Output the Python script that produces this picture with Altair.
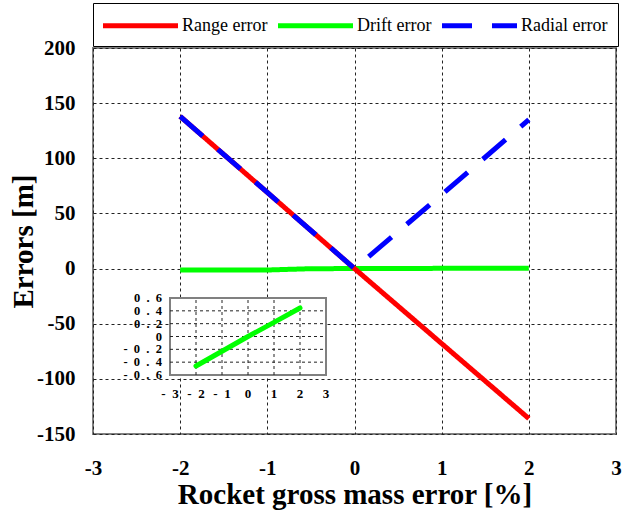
import altair as alt
import pandas as pd

# Main curves: errors [m] versus rocket gross mass error [%]
mass_err = [-2, -1, 0, 1, 2]
range_err = [138, 69, 0, -68, -136]
radial_err = [138, 69, 0, 67, 135]
drift_x = [-2, -1, -0.5, 0, 1, 2]
drift_err = [-1.3, -1.3, -0.1, 0, 0.2, 0.4]

# Inset: drift error at a finer vertical scale
inset_x = [-2, -1, 0, 1, 2]
inset_drift = [-0.46, -0.23, 0, 0.22, 0.445]

series_names = ["Range error", "Drift error", "Radial error"]
series_colors = ["#FF0000", "#00FF00", "#0000FF"]
series_dash = [[1, 0], [1, 0], [30, 20]]

x_ticks = [-3, -2, -1, 0, 1, 2, 3]
y_ticks = [-150, -100, -50, 0, 50, 100, 150, 200]
inset_x_ticks = [-3, -2, -1, 0, 1, 2, 3]
inset_y_ticks = [-0.6, -0.4, -0.2, 0, 0.2, 0.4, 0.6]

SERIF = "Liberation Serif"
EN_SPACE = "\u2002"

rows = []
for name, xs, ys in [("Range error", mass_err, range_err),
                     ("Drift error", drift_x, drift_err),
                     ("Radial error", mass_err, radial_err)]:
    rows += [{"x": a, "y": b, "series": name} for a, b in zip(xs, ys)]
main_df = pd.DataFrame(rows)

xs_main = alt.Scale(domain=[-3, 3], nice=False, zero=False)
ys_main = alt.Scale(domain=[-150, 200], nice=False, zero=False)

color = alt.Color(
    "series:N",
    scale=alt.Scale(domain=series_names, range=series_colors),
    legend=alt.Legend(title=None),
)
dash = alt.StrokeDash(
    "series:N",
    scale=alt.Scale(domain=series_names, range=series_dash),
    legend=alt.Legend(title=None),
)

# plain hyphen-minus tick labels
plain_label = "toString(datum.value)"

x_axis = alt.Axis(
    values=x_ticks, title="Rocket gross mass error [%]", ticks=False, domain=False,
    grid=True, gridDash=[3, 3], gridColor="#222", gridWidth=1,
    labelExpr=plain_label,
    labelFont=SERIF, labelFontSize=21, labelFontWeight="bold", labelColor="black",
    labelPadding=23, labelFlush=False,
    titleFont=SERIF, titleFontSize=29, titleFontWeight="bold", titleColor="black",
    titlePadding=2,
)
y_axis = alt.Axis(
    values=y_ticks, title="Errors [m]", ticks=False, domain=False,
    grid=True, gridDash=[3, 3], gridColor="#222", gridWidth=1,
    labelExpr=plain_label,
    labelFont=SERIF, labelFontSize=21, labelFontWeight="bold", labelColor="black",
    labelPadding=18, labelFlush=False,
    titleFont=SERIF, titleFontSize=29, titleFontWeight="bold", titleColor="black",
    titlePadding=-2,
)


def series_layer(name, with_axes):
    return alt.Chart(main_df).transform_filter(
        alt.datum.series == name
    ).mark_line(strokeWidth=5, strokeCap="butt").encode(
        x=alt.X("x:Q", scale=xs_main, axis=x_axis if with_axes else None),
        y=alt.Y("y:Q", scale=ys_main, axis=y_axis if with_axes else None),
        color=color,
        strokeDash=dash,
    )


# ---- inset panel ----
xs_in = alt.Scale(domain=[-3, 3], range=[77, 233], nice=False, zero=False)
ys_in = alt.Scale(domain=[-0.6, 0.6], range=[327, 250], nice=False, zero=False)
X_MIN, X_MAX = inset_x_ticks[0], inset_x_ticks[-1]
Y_MIN, Y_MAX = inset_y_ticks[0], inset_y_ticks[-1]


def spaced(v):
    s = "0" if abs(v) < 1e-9 else (f"{v:.1f}" if not float(v).is_integer() else str(int(v)))
    return EN_SPACE.join(s)


frame_df = pd.DataFrame({"x0": [X_MIN], "x1": [X_MAX], "y0": [Y_MIN], "y1": [Y_MAX]})
frame = alt.Chart(frame_df).mark_rect(fill="white", stroke="#808080", strokeWidth=2).encode(
    x=alt.X("x0:Q", scale=xs_in, axis=None), x2="x1:Q",
    y=alt.Y("y0:Q", scale=ys_in, axis=None), y2="y1:Q",
)

vgrid_df = pd.DataFrame({"gx": [-2, -1, 0, 1, 2]})
vgrid_df["y0"], vgrid_df["y1"] = Y_MIN, Y_MAX
vgrid = alt.Chart(vgrid_df).mark_rule(
    color="#222", strokeDash=[3, 3], strokeWidth=1
).encode(
    x=alt.X("gx:Q", scale=xs_in, axis=None),
    y=alt.Y("y0:Q", scale=ys_in, axis=None), y2="y1:Q",
)
hgrid_df = pd.DataFrame({"gy": [-0.4, -0.2, 0, 0.2, 0.4]})
hgrid_df["x0"], hgrid_df["x1"] = X_MIN, X_MAX
hgrid = alt.Chart(hgrid_df).mark_rule(
    color="#222", strokeDash=[3, 3], strokeWidth=1
).encode(
    y=alt.Y("gy:Q", scale=ys_in, axis=None),
    x=alt.X("x0:Q", scale=xs_in, axis=None), x2="x1:Q",
)

inset_line = alt.Chart(pd.DataFrame({"ix": inset_x, "iy": inset_drift})).mark_line(
    color="#00FF00", strokeWidth=5, strokeCap="round"
).encode(
    x=alt.X("ix:Q", scale=xs_in, axis=None),
    y=alt.Y("iy:Q", scale=ys_in, axis=None),
)

ylab_df = pd.DataFrame({"v": inset_y_ticks, "t": [spaced(v) for v in inset_y_ticks]})
ylab_df["x0"] = X_MIN
ylabels = alt.Chart(ylab_df).mark_text(
    font=SERIF, fontSize=12.5, fontWeight="bold", align="right", baseline="middle",
    dx=-8, color="black"
).encode(
    x=alt.X("x0:Q", scale=xs_in, axis=None),
    y=alt.Y("v:Q", scale=ys_in, axis=None),
    text="t:N",
)
xlab_df = pd.DataFrame({"v": inset_x_ticks, "t": [spaced(v) for v in inset_x_ticks]})
xlab_df["y0"] = Y_MIN
xlabels = alt.Chart(xlab_df).mark_text(
    font=SERIF, fontSize=13, fontWeight="bold", align="center", baseline="middle",
    dy=19, color="black"
).encode(
    x=alt.X("v:Q", scale=xs_in, axis=None),
    y=alt.Y("y0:Q", scale=ys_in, axis=None),
    text="t:N",
)

chart = alt.layer(
    series_layer("Drift error", True),
    series_layer("Range error", False),
    series_layer("Radial error", False),
    frame, vgrid, hgrid, inset_line, ylabels, xlabels,
).resolve_scale(
    x="independent", y="independent"
).properties(
    width=523, height=386,
    padding={"left": 93, "top": 48, "right": 14, "bottom": 80},
    autosize=alt.AutoSizeParams(type="none"),
    background="white",
).configure_view(
    stroke="#808080", strokeWidth=2
).configure_legend(
    orient="none", legendX=0, legendY=-45, direction="horizontal",
    # long horizontal stroke drawn from a compact symbol size
    symbolType="M-1.25,0H6.25", symbolSize=400, symbolStrokeWidth=5,
    labelFont=SERIF, labelFontSize=18, labelFontWeight="normal", labelColor="black",
    labelOffset=54, columnPadding=0, padding=10,
    strokeColor="black", fillColor="white", labelLimit=200,
)

chart.save("out.html", embed_options={"renderer": "svg", "actions": False})
